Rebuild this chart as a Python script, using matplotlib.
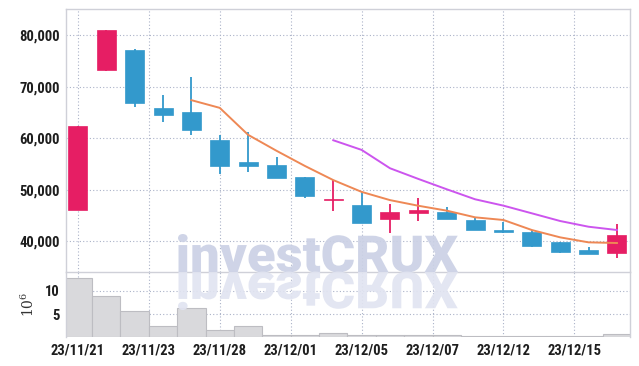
import matplotlib
matplotlib.use("Agg")
import matplotlib.pyplot as plt
from matplotlib.patches import Rectangle, PathPatch
from matplotlib.textpath import TextPath
from matplotlib.font_manager import FontProperties
from matplotlib.transforms import Affine2D

plt.rcParams['mathtext.fontset'] = 'dejavuserif'
tick_font = ['Roboto Condensed', 'Roboto', 'DejaVu Sans']

# daily data
dates = ['23/11/21', '23/11/22', '23/11/23', '23/11/24', '23/11/27',
         '23/11/28', '23/11/29', '23/11/30', '23/12/01', '23/12/04',
         '23/12/05', '23/12/06', '23/12/07', '23/12/08', '23/12/11',
         '23/12/12', '23/12/13', '23/12/14', '23/12/15', '23/12/18']
opens = [46000, 73300, 77200, 65800, 65100, 59700, 55400, 54700, 52500, 47950,
         47000, 44200, 45500, 45600, 44100, 42200, 41750, 39800, 38250, 37600]
highs = [62400, 81100, 77400, 68500, 72000, 60600, 61300, 56400, 52500, 51900,
         49600, 47200, 48400, 46700, 44700, 43750, 42100, 39800, 38900, 43250]
lows = [46000, 73000, 66000, 63100, 60600, 53000, 53400, 52300, 48400, 45900,
        43550, 41600, 43800, 44300, 42100, 41500, 38900, 37600, 37500, 36600]
closes = [62400, 81100, 66900, 64500, 61600, 54500, 54500, 52300, 48800, 48100,
          43550, 45650, 46000, 44350, 42150, 41650, 39100, 37900, 37500, 41150]
volume = [12.8, 8.9, 5.65, 2.4, 6.3, 1.5, 2.4, 0.5, 0.45, 0.85,
          0.4, 0.6, 0.4, 0.5, 0.2, 0.2, 0.2, 0.2, 0.2, 0.75]  # millions

ma5 = [None, None, None, None, 67400, 65900, 60650, 57550, 54600, 51850,
       49550, 47950, 46850, 45900, 44600, 44080, 42130, 40700, 39730, 39600]
ma10 = [None] * 9 + [59600, 57720, 54150, 52070, 50060, 48110, 46870,
                     45380, 43880, 42770, 42130]

up_color = '#e61e64'
down_color = '#3399cc'
grid_color = '#aab2c8'
spine_color = '#cfd0d8'

fig = plt.figure(figsize=(6.39, 3.66), dpi=100)
ax = fig.add_axes([66 / 639, 94 / 366, 564 / 639, 263 / 366])
axv = fig.add_axes([66 / 639, 28.7 / 366, 564 / 639, 65.3 / 366], sharex=ax)

idx = list(range(len(dates)))
body_w = 0.67
for i in idx:
    o, h, l, c = opens[i], highs[i], lows[i], closes[i]
    col = up_color if c >= o else down_color
    ax.vlines(i, l, h, color=col, linewidth=1.3, zorder=2)
    ax.add_patch(Rectangle((i - body_w / 2, min(o, c)), body_w, max(abs(c - o), 250),
                           facecolor=col, edgecolor=col, linewidth=0.5, zorder=3))

x5 = [i for i in idx if ma5[i] is not None]
ax.plot(x5, [ma5[i] for i in x5], color='#ee8855', linewidth=1.4, zorder=4)
x10 = [i for i in idx if ma10[i] is not None]
ax.plot(x10, [ma10[i] for i in x10], color='#cc55ee', linewidth=1.4, zorder=4)

axv.bar(idx, volume, width=1.0, color='#d9d9dc', edgecolor='#bdbdc2', linewidth=0.8)

ax.set_xlim(-0.42, 19.46)
ax.set_ylim(33960, 85140)
axv.set_ylim(0, 14.1)

ticks = [t * 2.5 for t in range(8)]
ax.set_xticks(ticks)
axv.set_xticklabels([dates[round(t)] for t in ticks])
ax.set_yticks([40000, 50000, 60000, 70000, 80000])
ax.set_yticklabels(['40,000', '50,000', '60,000', '70,000', '80,000'])
axv.set_yticks([5, 10])
axv.set_yticklabels(['5', '10'])
plt.setp(ax.get_xticklabels(), visible=False)

for a in (ax, axv):
    a.grid(True, linestyle=(0, (1, 2)), color=grid_color, linewidth=0.8)
    a.set_axisbelow(True)
    a.tick_params(length=0, pad=4.5, labelcolor='#1e1e1e')
    for lab in a.get_xticklabels() + a.get_yticklabels():
        lab.set_fontfamily(tick_font)
        lab.set_fontweight('bold')
        lab.set_fontsize(10.5)
    for s in a.spines.values():
        s.set_color(spine_color)
        s.set_linewidth(1.0)
ax.spines['bottom'].set_visible(False)
axv.spines['bottom'].set_visible(False)

axv.set_ylabel('$10^6$', fontsize=10, color='#333333')
axv.yaxis.set_label_coords(-0.052, 0.5)

# watermark with its reflection
fp = FontProperties(family='Roboto', weight='black')
tp = TextPath((0, 0), 'investCRUX', size=100, prop=fp)
bb = tp.get_extents()
sx = 280 / (bb.x1 - bb.x0)
sy = 38 / bb.y1
to_fig = Affine2D().scale(1 / 639, 1 / 366) + fig.transFigure
for flip, col in ((1, '#cbd1e5'), (-1, '#e1e4f1')):
    tr = Affine2D().translate(-bb.x0, 0).scale(sx, flip * sy).translate(178, 94) + to_fig
    fig.add_artist(PathPatch(tp, transform=tr, facecolor=col, edgecolor='none',
                             alpha=0.92, zorder=5))

fig.savefig('out.png', dpi=100)
